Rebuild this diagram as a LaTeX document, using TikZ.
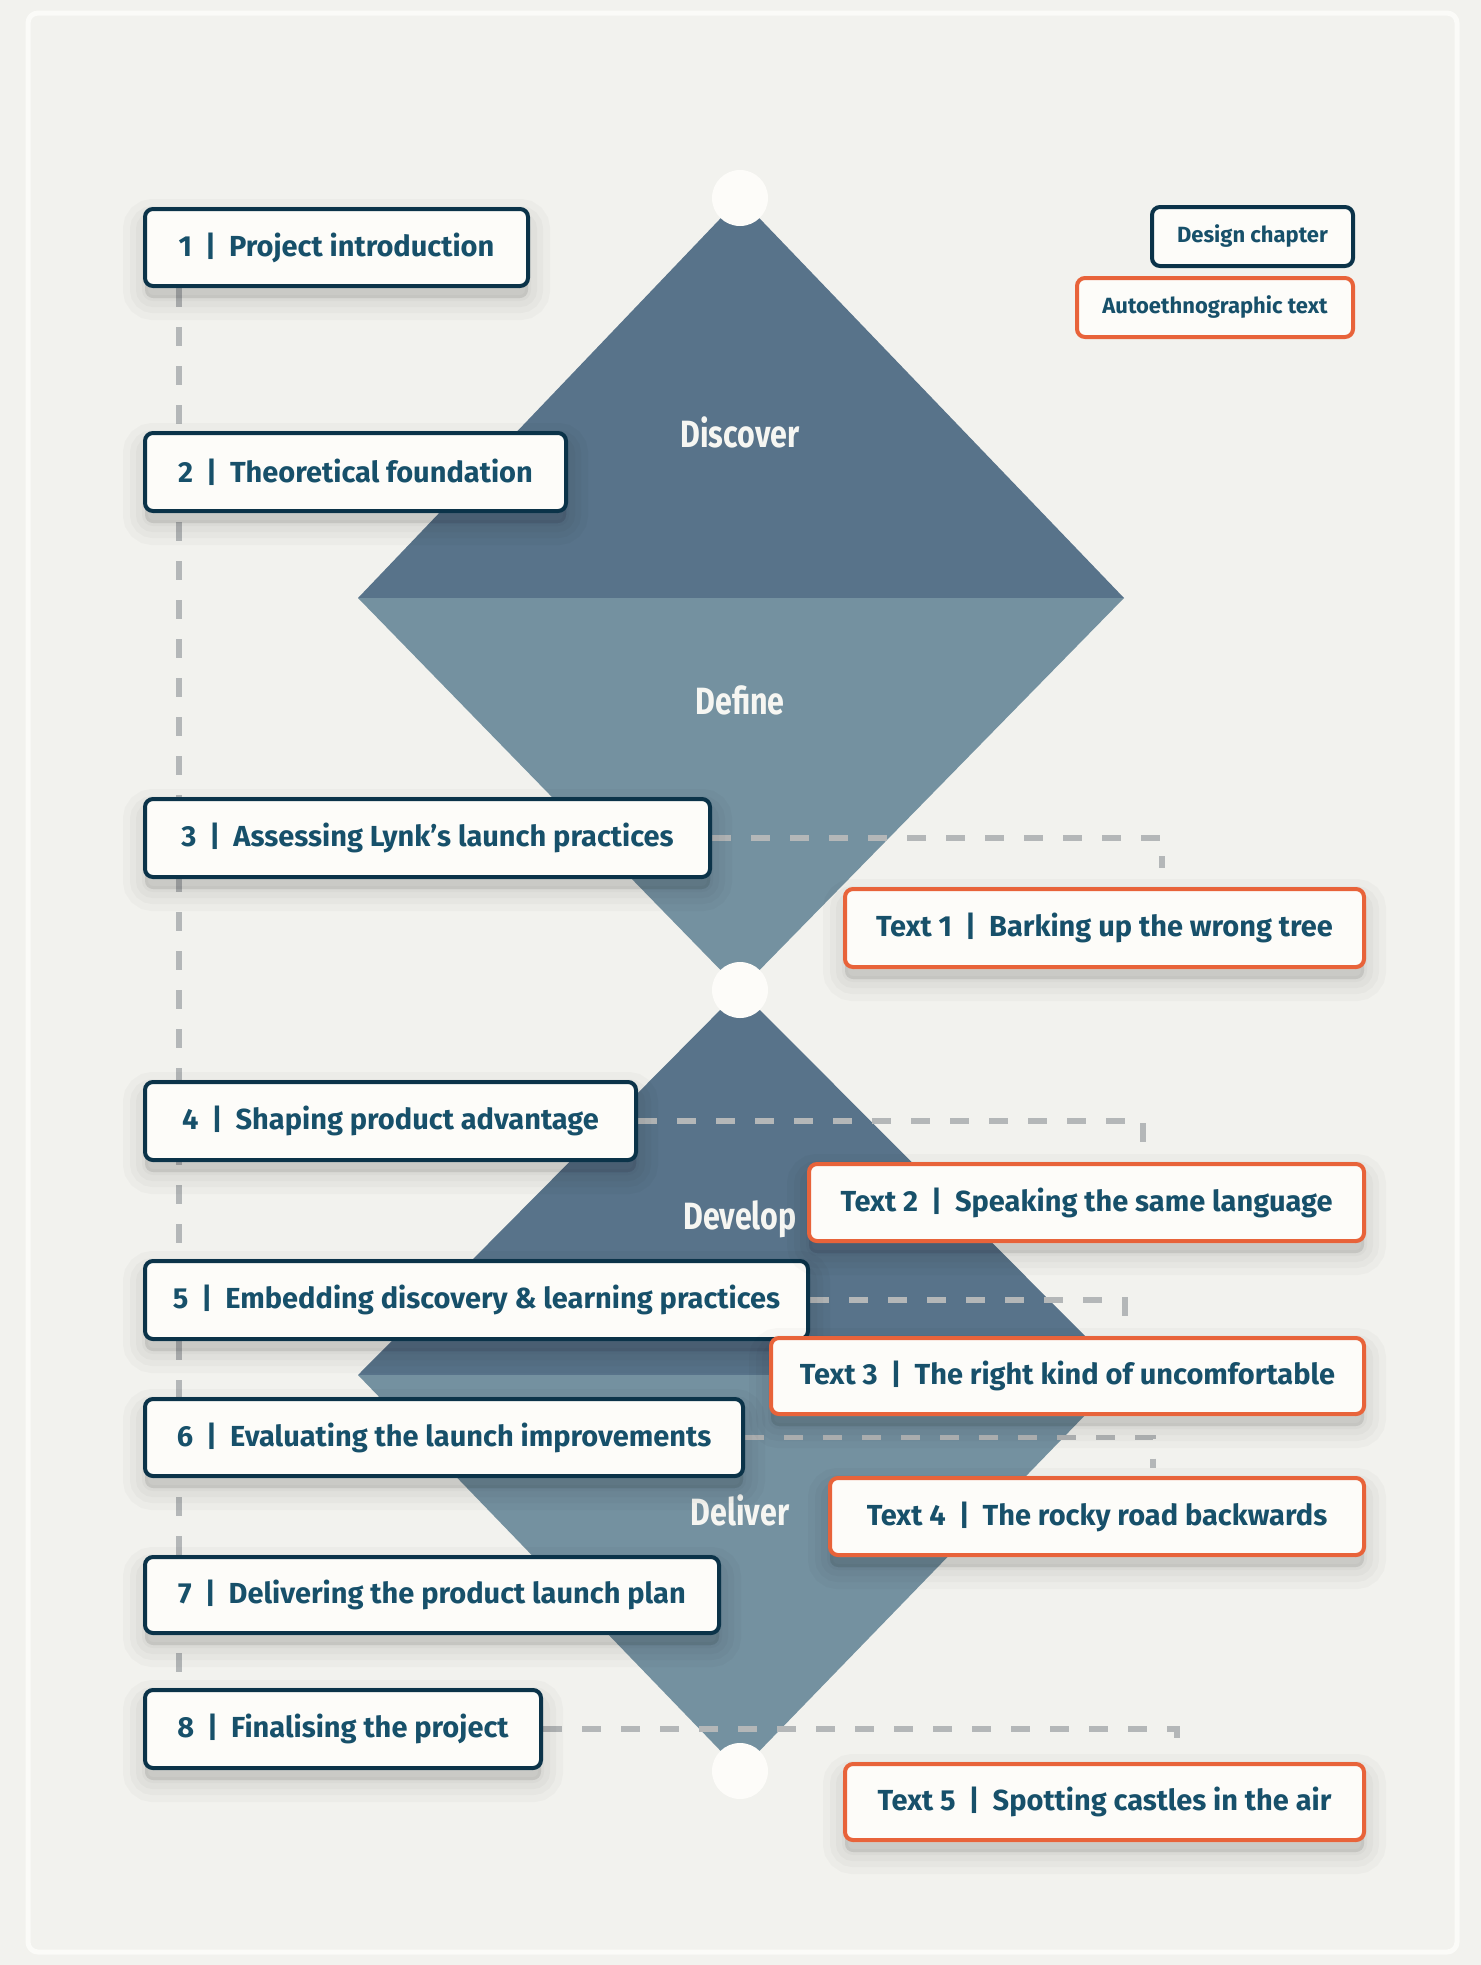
\documentclass[tikz,border=0pt]{standalone}
\usepackage{fontspec}
\setmainfont{Fira Sans}
\newfontfamily\condfont[FakeStretch=0.8]{Fira Sans}
\usetikzlibrary{calc}
\pgfdeclarelayer{back}
\pgfdeclarelayer{mid}
\pgfsetlayers{back,mid,main}
\definecolor{bgc}{HTML}{F2F2EE}
\definecolor{framec}{HTML}{FBFBF8}
\definecolor{darkb}{HTML}{0B3349}
\definecolor{orangeb}{HTML}{E8633A}
\definecolor{txtc}{HTML}{17506A}
\definecolor{fillc}{HTML}{FDFCF9}
\definecolor{topc}{HTML}{58738A}
\definecolor{botc}{HTML}{7491A0}
\definecolor{dashc}{HTML}{B4B7B8}
\definecolor{phasec}{HTML}{F6F6F2}
\newcommand\sepbar{\hspace{0.45em}|\hspace{0.45em}}
\tikzset{
  basebox/.style={draw, line width=2pt, rounded corners=4pt, fill=fillc, text=txtc,
    anchor=north west, inner sep=0pt, font=\bfseries\fontsize{14.5pt}{16pt}\selectfont},
  shlayer/.style={preaction={draw=black, fill=black, line width=#1, draw opacity=0.024, fill opacity=0.024,
    transform canvas={yshift=-6pt}}},
  shad/.style={shlayer=22pt, shlayer=15pt, shlayer=9pt, shlayer=3pt},
  chap/.style={basebox, draw=darkb, shad},
  auto/.style={basebox, draw=orangeb, shad},
  lchap/.style={basebox, draw=darkb, font=\bfseries\fontsize{11pt}{13pt}\selectfont},
  lauto/.style={basebox, draw=orangeb, font=\bfseries\fontsize{11pt}{13pt}\selectfont},
  sz/.style 2 args={minimum width=#1*0.5pt, minimum height=#2*0.5pt},
  phase/.style={text=phasec, font=\condfont\bfseries\fontsize{19pt}{21pt}\selectfont},
  dot/.style={circle, fill=fillc, minimum size=28pt, inner sep=0pt},
  conn/.style={draw=dashc, line width=2.6pt, dash pattern=on 9.5pt off 10pt}
}
\begin{document}
\begin{tikzpicture}[x=0.5pt, y=-0.5pt]
\begin{pgfonlayer}{back}
\fill[bgc] (0,0) rectangle (1481,1965);
\draw[framec, line width=2.5pt, rounded corners=5pt] (28,13) rectangle (1457,1952);
% diamonds
\fill[topc] (740,198) -- (1124,598) -- (358,598) -- cycle;
\fill[botc] (358,598) -- (1124,598) -- (740,990) -- cycle;
\fill[topc] (740,990) -- (1124,1375) -- (358,1375) -- cycle;
\fill[botc] (358,1375) -- (1124,1375) -- (740,1771) -- cycle;
\node[phase] (discover) at (740,432) {Discover};
\node[phase] (define) at (740,700) {Define};
\node[phase] (develop) at (740,1219) {Develop};
\node[phase] (deliver) at (740,1510) {Deliver};
\node[dot] (d1) at (740,198) {};
\node[dot] (d2) at (740,990) {};
\node[dot] (d3) at (740,1771) {};
\end{pgfonlayer}
% boxes (left)
\node[chap, sz={383}{77}] (b1) at (143,207) {1\sepbar Project introduction};
\node[chap, sz={421}{78}] (b2) at (143,431) {2\sepbar Theoretical foundation};
\node[chap, sz={565}{78}] (b3) at (143,797) {3\sepbar Assessing Lynk’s launch practices};
\node[chap, sz={491}{78}] (b4) at (143,1080) {4\sepbar Shaping product advantage};
\node[chap, sz={663}{78}] (b5) at (143,1259) {5\sepbar Embedding discovery \& learning practices};
\node[chap, sz={598}{77}] (b6) at (143,1397) {6\sepbar Evaluating the launch improvements};
\node[chap, sz={574}{76}] (b7) at (143,1555) {7\sepbar Delivering the product launch plan};
\node[chap, sz={396}{78}] (b8) at (143,1688) {8\sepbar Finalising the project};
% text boxes (right)
\node[auto, sz={519}{78}] (t1) at (843,887) {Text 1\sepbar Barking up the wrong tree};
\node[auto, sz={555}{77}] (t2) at (807,1162) {Text 2\sepbar Speaking the same language};
\node[auto, sz={593}{76}] (t3) at (769,1336) {Text 3\sepbar The right kind of uncomfortable};
\node[auto, sz={534}{77}] (t4) at (828,1476) {Text 4\sepbar The rocky road backwards};
\node[auto, sz={519}{76}] (t5) at (843,1762) {Text 5\sepbar Spotting castles in the air};
% legend
\node[lchap, sz={201}{59}] (lg1) at (1150,205) {Design chapter};
\node[lauto, sz={276}{59}] (lg2) at (1075,276) {Autoethnographic text};
% connectors
\coordinate (e1) at (1162,868);
\coordinate (e2) at (1143,1158);
\coordinate (e3) at (1125,1332);
\coordinate (e4) at (1153,1468);
\coordinate (e5) at (1177,1758);
\begin{pgfonlayer}{mid}
\draw[conn] ($(b1.south west)+(36,0)$) -- ($(b8.north west)+(36,0)$);
\draw[conn] (b3.east) -| (e1);
\draw[conn] (b4.east) -| (e2);
\draw[conn] (b5.east) -| (e3);
\draw[conn] (b6.east) -| (e4);
\draw[conn] (b8.east) -| (e5);
\end{pgfonlayer}
\end{tikzpicture}
\end{document}
